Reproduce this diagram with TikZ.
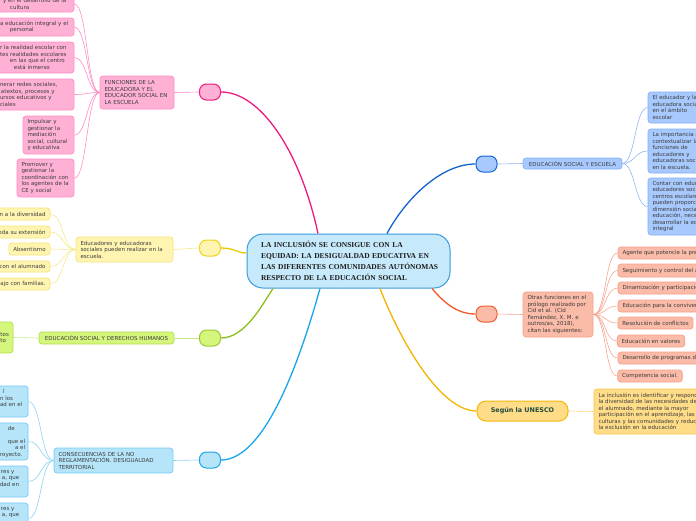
\documentclass[tikz,border=0pt]{standalone}
\usepackage{fontspec}
\setmainfont{Liberation Serif}
\newfontfamily\sff{DejaVu Sans}
\newfontfamily\serfam{Liberation Serif}
\newcommand\frag[2]{\hspace*{\dimexpr #1pt+25.5pt\relax}\mbox{#2}}
\definecolor{txt}{HTML}{3C3C3C}
\definecolor{ctr}{HTML}{1C1C1C}
\definecolor{cF}{HTML}{C6EAFB}\definecolor{cD}{HTML}{3A9AD8}
\definecolor{pkF}{HTML}{FFB1D5}\definecolor{pkD}{HTML}{FF8CC4}\definecolor{pkS}{HTML}{F01A7C}\definecolor{pkL}{HTML}{FF8CC4}
\definecolor{yF}{HTML}{FFF5B1}\definecolor{yD}{HTML}{F5E27A}\definecolor{yS}{HTML}{EBD31F}\definecolor{yT}{HTML}{E8C900}\definecolor{yL}{HTML}{F6E88E}
\definecolor{gF}{HTML}{D4F67C}\definecolor{gD}{HTML}{B2DF4A}\definecolor{gS}{HTML}{9DC632}\definecolor{gT}{HTML}{8BBE19}\definecolor{gL}{HTML}{C4E88B}
\definecolor{lF}{HTML}{B6E5FA}\definecolor{lD}{HTML}{74C9F0}\definecolor{lS}{HTML}{1DA5E6}\definecolor{lT}{HTML}{18A6EA}\definecolor{lL}{HTML}{8BD4F4}
\definecolor{bF}{HTML}{A8C9FE}\definecolor{bD}{HTML}{80B0F6}\definecolor{bS}{HTML}{1767D6}\definecolor{bT}{HTML}{1363D0}\definecolor{bL}{HTML}{8DB6F2}
\definecolor{sF}{HTML}{FABBA8}\definecolor{sD}{HTML}{F6A08A}\definecolor{sS}{HTML}{F25E2E}\definecolor{sT}{HTML}{F0592A}\definecolor{sL}{HTML}{F7A68F}
\definecolor{oF}{HTML}{FFDC88}\definecolor{oD}{HTML}{F7C54A}\definecolor{oS}{HTML}{F5B60A}\definecolor{oT}{HTML}{F5B300}\definecolor{oL}{HTML}{FFD67A}
\definecolor{uT}{HTML}{1F4B3F}
\begin{document}
\begin{tikzpicture}[x=1pt,y=-1pt,
  bx/.style={rounded corners=3pt, line width=0.7pt, inner ysep=0pt, inner xsep=4.5pt,
    font=\sff\fontsize{5.5}{6.5}\selectfont, text=txt},
  sm/.style={rounded corners=7pt, line width=1pt, minimum width=21pt, minimum height=16pt, inner sep=0pt},
  fan/.style={line width=0.6pt},
  trunk/.style={line width=1.3pt},
  pkbox/.style={bx, fill=pkF, draw=pkD},
  ybox/.style={bx, fill=yF, draw=yD},
  gbox/.style={bx, fill=gF, draw=gD},
  lbox/.style={bx, fill=lF, draw=lD},
  bluebox/.style={bx, fill=bF, draw=bD},
  sbox/.style={bx, fill=sF, draw=sD},
  obox/.style={bx, fill=oF, draw=oD}]
\useasboundingbox (0,0) rectangle (696,520);
\clip (0,0) rectangle (696,520);

% central
\node[bx, fill=cF, draw=cD, line width=1pt, rounded corners=16pt, minimum width=203pt, minimum height=54pt,
  text width=175pt, align=left, inner xsep=14pt, font=\serfam\bfseries\fontsize{7.5}{11}\selectfont, text=ctr]
  (c) at (348.5,261) {\mbox{LA INCLUSIÓN SE CONSIGUE CON LA}\\\mbox{EQUIDAD: LA DESIGUALDAD EDUCATIVA EN}\\\mbox{LAS DIFERENTES COMUNIDADES AUTÓNOMAS}\\\mbox{RESPECTO DE LA EDUCACIÓN SOCIAL}};

% small hubs
\node[sm, fill=pkF, draw=pkS] (pk) at (210,92) {};
\node[sm, fill=yF, draw=yS] (ys) at (210,248) {};
\node[sm, fill=gF, draw=gS] (gs) at (210,338) {};
\node[sm, fill=lF, draw=lS] (ls) at (210,460) {};
\node[sm, fill=bF, draw=bS] (bs) at (486.5,164) {};
\node[sm, fill=sF, draw=sS] (ss) at (486.5,314) {};
\node[sm, fill=oF, draw=oS, minimum width=91pt, minimum height=20pt, rounded corners=9pt,
  font=\sff\bfseries\fontsize{6.4}{7}\selectfont, text=uT] (un) at (522.5,411) {Según la UNESCO};

% pink branch
\node[pkbox, minimum width=74pt, minimum height=33pt, text width=65pt, align=left] (p0) at (137,92.5)
  {FUNCIONES DE LA\\EDUCADORA Y EL\\EDUCADOR SOCIAL EN\\LA ESCUELA};
\node[pkbox, minimum width=104pt, minimum height=16pt, text width=95pt, align=left] (pc1) at (22,4)
  {\frag{3}{y en el desarrollo de la}\\\frag{10}{cultura}};
\node[pkbox, minimum width=104pt, minimum height=18pt, text width=95pt, align=left] (pc2) at (22,27)
  {\frag{0}{a educación integral y el}\\\frag{10}{personal}};
\node[pkbox, minimum width=104pt, minimum height=31pt, text width=95pt, align=left] (pc3) at (22,57.5)
  {\frag{0}{r la realidad escolar con}\\\frag{0}{tes realidades escolares}\\\frag{10}{en las que el centro}\\\frag{14}{está inmerso}};
\node[pkbox, minimum width=104pt, minimum height=31pt, text width=95pt, align=left] (pc4) at (22,94.5)
  {\frag{0}{nerar redes sociales,}\\\frag{1}{atextos, procesos y}\\\frag{0}{ursos educativos y}\\\frag{0}{ciales}};
\node[pkbox, minimum width=51pt, minimum height=38pt, text width=42pt, align=left] (pc5) at (48.5,135)
  {Impulsar y\\gestionar la\\mediación\\social, cultural\\y educativa};
\node[pkbox, minimum width=57pt, minimum height=38pt, text width=48pt, align=left] (pc6) at (45.5,178)
  {Promover y\\gestionar la\\coordinación con\\los agentes de la\\CE y social};

% yellow branch
\node[ybox, minimum width=97pt, minimum height=25pt, text width=88pt, align=left] (y0) at (124.5,249.5)
  {Educadores y educadoras\\sociales pueden realizar en la\\escuela.};
\node[ybox, minimum width=80pt, minimum height=12pt, text width=71pt, align=right] (yc1) at (10,214) {n a la diversidad};
\node[ybox, minimum width=80pt, minimum height=12pt, text width=71pt, align=right] (yc2) at (10,232) {oda su extensión};
\node[ybox, minimum width=41pt, minimum height=12pt] (yc3) at (29.5,249) {Absentismo};
\node[ybox, minimum width=80pt, minimum height=11pt, text width=71pt, align=right] (yc4) at (10,266.5) {con el alumnado};
\node[ybox, minimum width=80pt, minimum height=12pt, text width=71pt, align=right] (yc5) at (10,284) {ajo con familias.};

% green branch
\node[gbox, minimum width=135pt, minimum height=12pt] (g0) at (106.5,338) {EDUCACIÓN SOCIAL Y DERECHOS HUMANOS};
\node[gbox, minimum width=43pt, minimum height=31pt, text width=34pt, align=left] (gc) at (-8.5,337.5)
  {\frag{0.5}{tos}\\\frag{0.5}{to}};

% light blue branch
\node[lbox, minimum width=119pt, minimum height=25pt, text width=110pt, align=left] (l0) at (113.5,460.5)
  {CONSECUENCIAS DE LA NO\\REGLAMENTACIÓN. DESIGUALDAD\\TERRITORIAL};
\node[lbox, minimum width=58pt, minimum height=31pt, text width=49pt, align=left] (lc1) at (-1,401.5)
  {\frag{3}{l}\\\frag{0}{n los}\\\frag{0}{ad en el}\\\mbox{}};
\node[lbox, minimum width=58pt, minimum height=37pt, text width=49pt, align=left] (lc2) at (-1,441.5)
  {\frag{8}{de}\\\mbox{}\\\frag{8}{que el}\\\frag{15}{a el}\\\frag{0}{royecto.}};
\node[lbox, minimum width=58pt, minimum height=31pt, text width=49pt, align=left] (lc3) at (-1,481.5)
  {\frag{1}{res y}\\\frag{2}{a, que}\\\frag{0}{dad en}\\\mbox{}};
\node[lbox, minimum width=58pt, minimum height=31pt, text width=49pt, align=left] (lc4) at (-1,518.5)
  {\frag{1}{res y}\\\frag{2}{a, que}\\\mbox{}\\\mbox{}};

% blue branch
\node[bluebox, minimum width=99pt, minimum height=11pt] (b0) at (572.5,163.5) {EDUCACIÓN SOCIAL Y ESCUELA};
\node[bluebox, minimum width=112pt, minimum height=31pt, text width=103pt, align=left] (bc1) at (704,107.5)
  {El educador y la\\educadora socia\\en el ámbito\\escolar};
\node[bluebox, minimum width=112pt, minimum height=44pt, text width=103pt, align=left] (bc2) at (704,151)
  {La importancia d\\contextualizar la\\funciones de\\educadores y\\educadoras soci\\en la escuela.};
\node[bluebox, minimum width=112pt, minimum height=57pt, text width=103pt, align=left] (bc3) at (704,206.5)
  {Contar con educ\\educadores soci\\centros escolare\\pueden proporc\\dimensión socia\\educación, nece\\desarrollar la ed\\integral};

% salmon branch
\node[sbox, minimum width=69pt, minimum height=45pt, text width=61pt, align=left] (s0) at (558,314.5)
  {Otras funciones en el\\prólogo realizado por\\Cid et al. (Cid\\Fernández, X. M. e\\outros/as, 2018),\\citan las siguientes:};
\node[sbox, minimum width=142pt, minimum height=12pt, text width=133pt, align=left] (sc1) at (689,253) {Agente que potencie la pre};
\node[sbox, minimum width=142pt, minimum height=13pt, text width=133pt, align=left] (sc2) at (689,270.5) {Seguimiento y control del a};
\node[sbox, minimum width=142pt, minimum height=12pt, text width=133pt, align=left] (sc3) at (689,288) {Dinamización y participació};
\node[sbox, minimum width=142pt, minimum height=12pt, text width=133pt, align=left] (sc4) at (689,306) {Educación para la conviven};
\node[sbox, minimum width=75pt, minimum height=12pt] (sc5) at (655.5,323) {Resolución de conflictos};
\node[sbox, minimum width=66pt, minimum height=12pt] (sc6) at (651,341) {Educación en valores};
\node[sbox, minimum width=142pt, minimum height=12pt, text width=133pt, align=left] (sc7) at (689,358) {Desarrollo de programas d};
\node[sbox, minimum width=64pt, minimum height=12pt] (sc8) at (650,376) {Competencia social.};

% UNESCO child
\node[obox, minimum width=166pt, minimum height=45pt, text width=157pt, align=left] (uc) at (677,411.5)
  {La inclusión es identificar y respond\\la diversidad de las necesidades de\\el alumnado, mediante la mayor\\participación en el aprendizaje, las\\culturas y las comunidades y reduc\\la exclusión en la educación};

% trunks
\draw[trunk, pkS] (pk.east) .. controls (260,92) and (300,150) .. ([xshift=-30.5pt]c.north);
\draw[trunk, bT] (bs.west) .. controls (440,164) and (405,200) .. ([xshift=38.5pt]c.north);
\draw[trunk, yT] (ys.east) .. controls (235,248) and (237,253) .. ([yshift=8pt]c.west);
\draw[trunk, gT] (gs.east) .. controls (245,338) and (262,305) .. ([xshift=-75.5pt]c.south);
\draw[trunk, lT] (ls.east) .. controls (265,460) and (300,360) .. ([xshift=-28.5pt]c.south);
\draw[trunk, sT] (ss.west) .. controls (455,314) and (442,300) .. ([xshift=83.5pt]c.south);
\draw[trunk, oT] (un.west) .. controls (440,411) and (400,340) .. ([xshift=31.5pt]c.south);

% hub to secondary
\draw[fan, pkL] (pk.west) -- (p0.east);
\draw[fan, yL] (ys.west) -- (y0.east);
\draw[fan, gL] (gs.west) -- (g0.east);
\draw[fan, lL] (ls.west) -- (l0.east);
\draw[fan, bL] (bs.east) -- (b0.west);
\draw[fan, sL] (ss.east) -- (s0.west);
\draw[fan, oL] (un.east) -- (uc.west);
\draw[fan, gL] (g0.west) -- (gc.east);

% fans
\foreach \n in {pc1,pc2,pc3,pc4,pc5,pc6}
  \draw[fan, pkL] (p0.west) .. controls +(-13,0) and +(13,0) .. (\n.east);
\foreach \n in {yc1,yc2,yc3,yc4,yc5}
  \draw[fan, yL] (y0.west) .. controls +(-13,0) and +(13,0) .. (\n.east);
\foreach \n in {lc1,lc2,lc3,lc4}
  \draw[fan, lL] (l0.west) .. controls +(-13,0) and +(13,0) .. (\n.east);
\foreach \n in {bc1,bc2,bc3}
  \draw[fan, bL] (b0.east) .. controls +(13,0) and +(-13,0) .. (\n.west);
\foreach \n in {sc1,sc2,sc3,sc4,sc5,sc6,sc7,sc8}
  \draw[fan, sL] (s0.east) .. controls +(13,0) and +(-13,0) .. (\n.west);
\end{tikzpicture}
\end{document}
